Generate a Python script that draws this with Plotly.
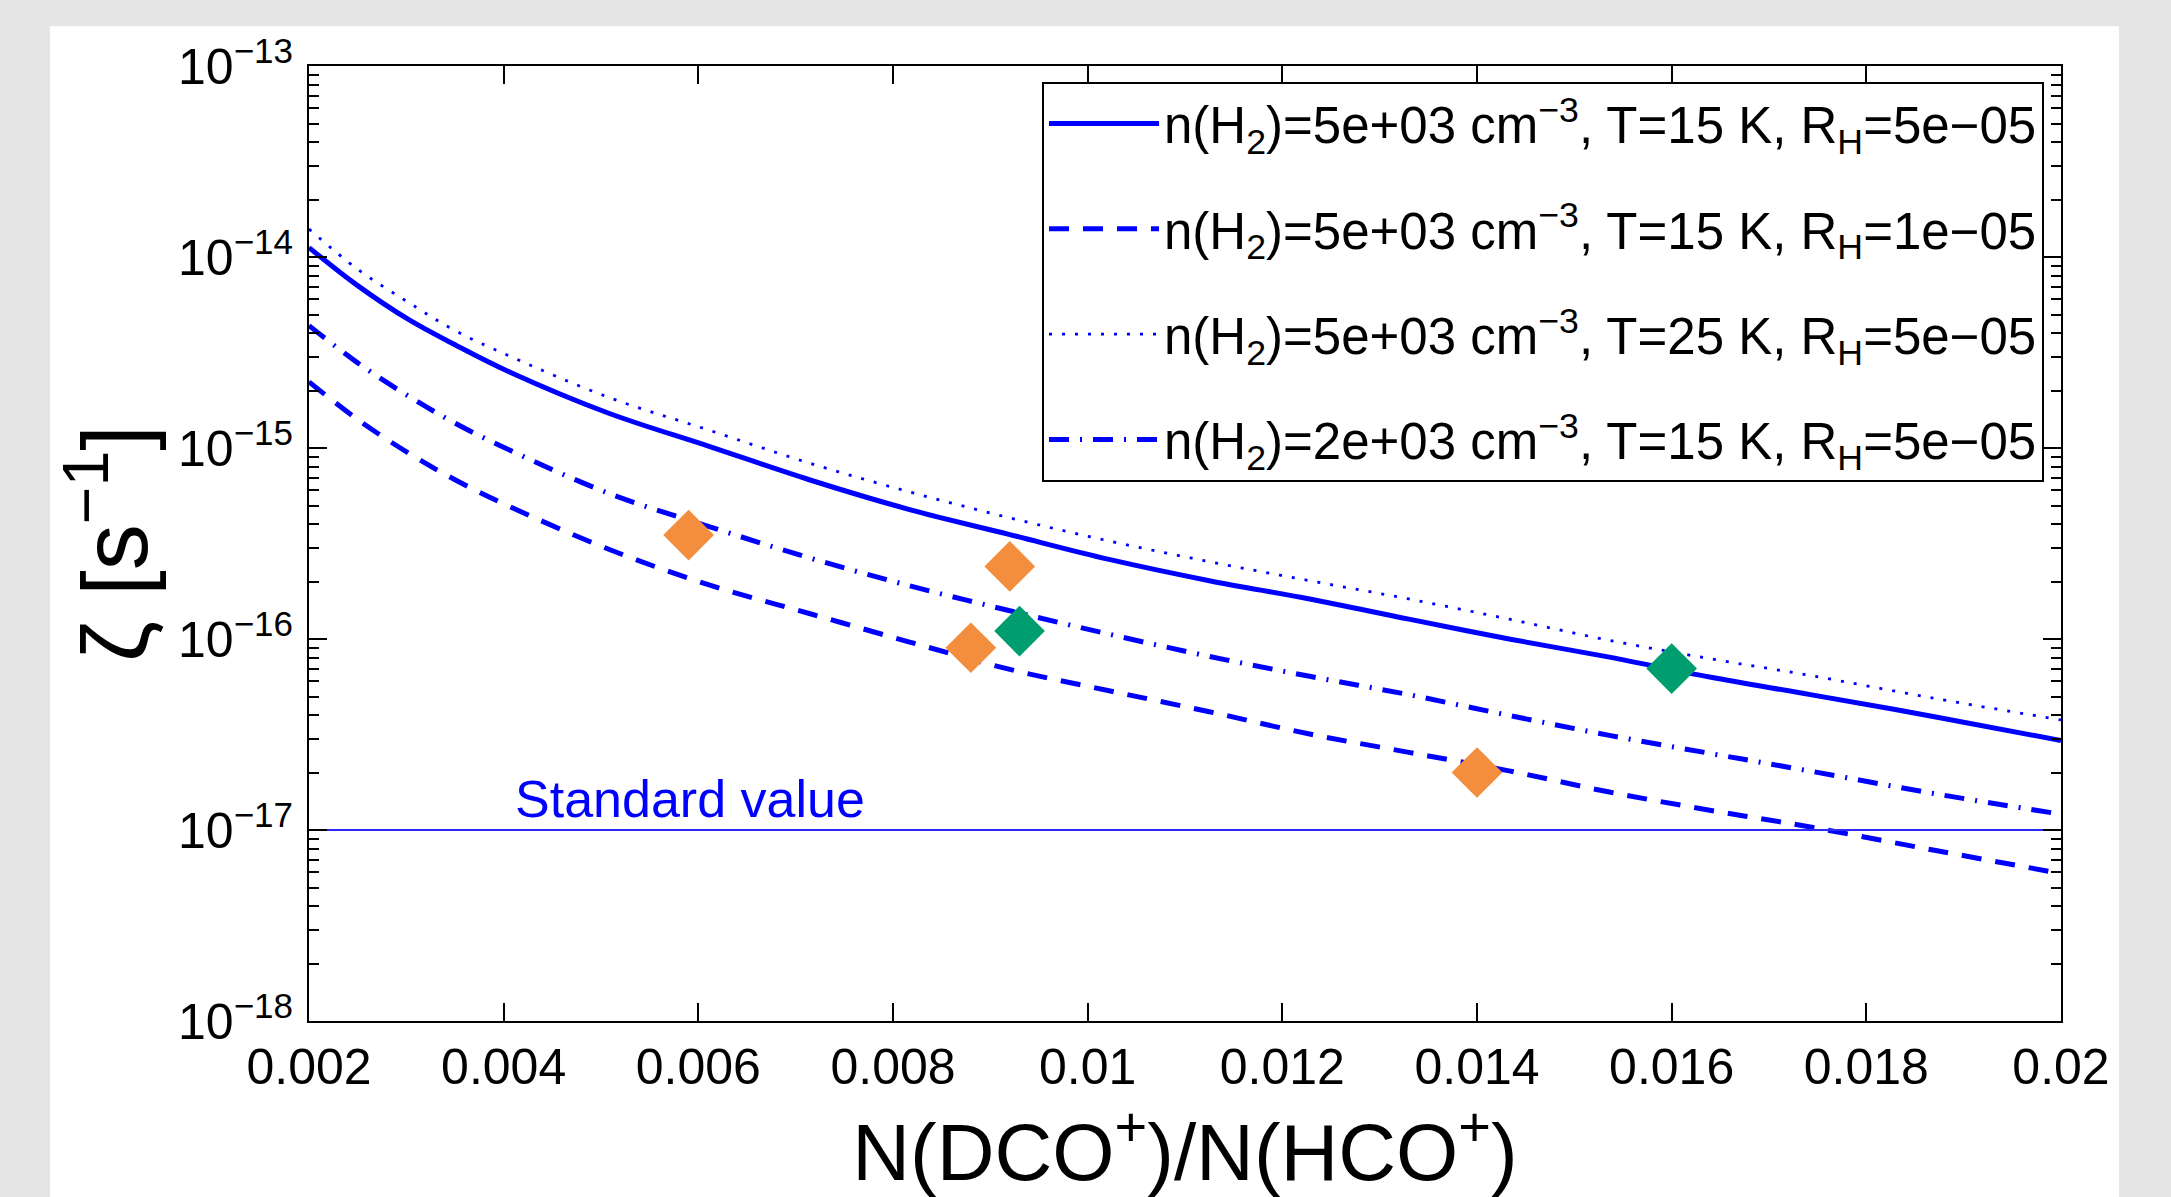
import plotly.graph_objects as go

# ---------------- data ----------------
ratio = [0.002, 0.0025, 0.00303, 0.0035, 0.00406, 0.00508, 0.00611, 0.00714,
         0.00817, 0.00919, 0.01022, 0.01125, 0.01228, 0.0133, 0.01433, 0.01536,
         0.01639, 0.01741, 0.0187, 0.02]

zeta_n5e3_T15_R5e5 = [1.12e-14, 7.08e-15, 4.68e-15, 3.47e-15, 2.50e-15, 1.52e-15,
                      1.02e-15, 6.82e-16, 4.76e-16, 3.53e-16, 2.61e-16, 2.02e-16,
                      1.62e-16, 1.27e-16, 1.00e-16, 8.04e-17, 6.32e-17, 5.13e-17,
                      3.92e-17, 2.94e-17]
zeta_n5e3_T15_R1e5 = [2.22e-15, 1.41e-15, 9.35e-16, 6.82e-16, 4.94e-16, 2.95e-16,
                      1.92e-16, 1.36e-16, 9.64e-17, 6.95e-17, 5.36e-17, 4.16e-17,
                      3.18e-17, 2.55e-17, 2.04e-17, 1.58e-17, 1.27e-17, 1.04e-17,
                      7.83e-18, 5.92e-18]
zeta_n5e3_T25_R5e5 = [1.40e-14, 8.63e-15, 5.75e-15, 4.12e-15, 3.03e-15, 1.84e-15,
                      1.24e-15, 8.34e-16, 5.89e-16, 4.32e-16, 3.26e-16, 2.54e-16,
                      2.02e-16, 1.62e-16, 1.27e-16, 9.84e-17, 7.89e-17, 6.46e-17,
                      4.89e-17, 3.77e-17]
zeta_n2e3_T15_R5e5 = [4.37e-15, 2.79e-15, 1.86e-15, 1.35e-15, 9.75e-16, 5.79e-16,
                      3.88e-16, 2.66e-16, 1.90e-16, 1.41e-16, 1.06e-16, 8.11e-17,
                      6.38e-17, 5.11e-17, 3.98e-17, 3.13e-17, 2.52e-17, 2.04e-17,
                      1.55e-17, 1.21e-17]

series_names = [
    "n(H<sub>2</sub>)=5e+03 cm<sup>−3</sup>, T=15 K, R<sub>H</sub>=5e−05",
    "n(H<sub>2</sub>)=5e+03 cm<sup>−3</sup>, T=15 K, R<sub>H</sub>=1e−05",
    "n(H<sub>2</sub>)=5e+03 cm<sup>−3</sup>, T=25 K, R<sub>H</sub>=5e−05",
    "n(H<sub>2</sub>)=2e+03 cm<sup>−3</sup>, T=15 K, R<sub>H</sub>=5e−05",
]

obs_orange_x = [0.0059, 0.0088, 0.0092, 0.014]
obs_orange_y = [3.5e-16, 9.0e-17, 2.4e-16, 2.0e-17]
obs_green_x = [0.0093, 0.016]
obs_green_y = [1.1e-16, 7.0e-17]

standard_zeta = 1e-17
standard_label = "Standard value"

x_tick_vals = [0.002, 0.004, 0.006, 0.008, 0.01, 0.012, 0.014, 0.016, 0.018, 0.02]
x_tick_text = ["0.002", "0.004", "0.006", "0.008", "0.01", "0.012", "0.014",
               "0.016", "0.018", "0.02"]
y_tick_vals = [1e-18, 1e-17, 1e-16, 1e-15, 1e-14, 1e-13]
y_tick_text = ["10<sup>−18</sup>", "10<sup>−17</sup>", "10<sup>−16</sup>",
               "10<sup>−15</sup>", "10<sup>−14</sup>", "10<sup>−13</sup>"]

# ---------------- styling ----------------
FONT = "Liberation Sans, Arial, Helvetica, sans-serif"
BLUE = "#0000FF"
curves = [
    (zeta_n5e3_T15_R5e5, dict(color=BLUE, width=5, dash="solid")),
    (zeta_n5e3_T15_R1e5, dict(color=BLUE, width=5, dash="20px,14px")),
    (zeta_n5e3_T25_R5e5, dict(color=BLUE, width=2.8, dash="3px,10px")),
    (zeta_n2e3_T15_R5e5, dict(color=BLUE, width=5, dash="20px,11px,2px,11px")),
]

fig = go.Figure()
for i, ((yvals, line), name) in enumerate(zip(curves, series_names)):
    fig.add_trace(go.Scatter(x=ratio, y=yvals, mode="lines", name=name,
                             line=dict(shape="spline", **line),
                             legendgroup=f"g{i}"))

fig.add_trace(go.Scatter(x=[x_tick_vals[0], x_tick_vals[-1]],
                         y=[standard_zeta, standard_zeta], mode="lines",
                         line=dict(color="#2a2aff", width=2), showlegend=False))

fig.add_trace(go.Scatter(x=obs_orange_x, y=obs_orange_y, mode="markers",
                         marker=dict(symbol="diamond", size=39, color="#F28E3D",
                                     line=dict(width=0)), showlegend=False))
fig.add_trace(go.Scatter(x=obs_green_x, y=obs_green_y, mode="markers",
                         marker=dict(symbol="diamond", size=39, color="#009E6E",
                                     line=dict(width=0)), showlegend=False))

fig.add_annotation(x=0.0041, y=-17, xref="x", yref="y", text=standard_label,
                   showarrow=False, xanchor="left", yanchor="bottom", yshift=0,
                   font=dict(family=FONT, size=52, color=BLUE))

# white figure panel on grey page
fig.add_shape(type="rect", xref="paper", yref="paper", x0=-0.1478, x1=1.0331,
              y0=-0.25, y1=1.0417, fillcolor="white", line=dict(width=0),
              layer="below")

axis_common = dict(showline=True, linecolor="black", linewidth=2, mirror="allticks",
                   ticks="inside", ticklen=18, tickwidth=1.5, tickcolor="black",
                   showgrid=False, zeroline=False,
                   tickfont=dict(family=FONT, size=50, color="black"))

fig.update_xaxes(range=[0.002, 0.02], tickvals=x_tick_vals, ticktext=x_tick_text,
                 title=dict(text="N(DCO<sup>+</sup>)/N(HCO<sup>+</sup>)",
                            font=dict(family=FONT, size=80, color="black"),
                            standoff=34),
                 ticklabelstandoff=1, **axis_common)
fig.update_yaxes(type="log", range=[-18, -13], tickvals=y_tick_vals,
                 ticktext=y_tick_text,
                 minor=dict(ticks="inside", ticklen=10, tickwidth=1.5,
                            tickcolor="black", dtick="D1", showgrid=False),
                 title=dict(text="ζ [s<sup>−1</sup>]",
                            font=dict(family=FONT, size=92, color="black"),
                            standoff=0),
                 ticklabelstandoff=4, **axis_common)

fig.update_layout(
    width=2171, height=1197,
    margin=dict(l=309, r=110, t=66, b=171, pad=0),
    paper_bgcolor="#e5e5e5", plot_bgcolor="white",
    font=dict(family=FONT, color="black"),
    showlegend=True,
    legend=dict(x=0.9903, y=0.9834, xanchor="right", yanchor="top",
                bgcolor="white", bordercolor="black", borderwidth=2,
                font=dict(family=FONT, size=51, color="black"),
                itemwidth=110, tracegroupgap=36),
)

fig.write_html("out.html", config={"displayModeBar": False},
               post_script="document.body.style.margin='0';")
